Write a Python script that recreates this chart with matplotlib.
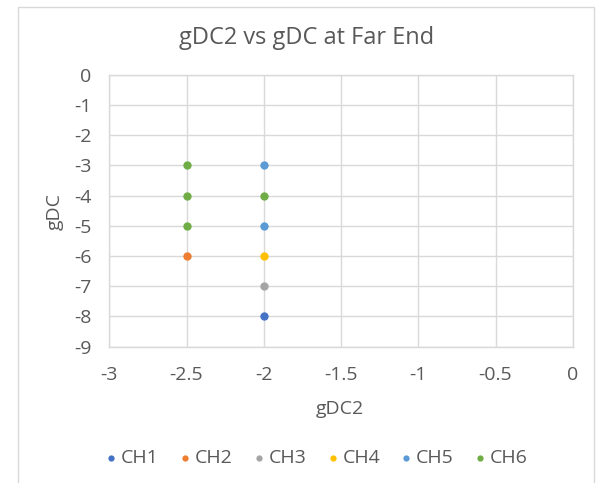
# gDC2 vs gDC at Far End (scatter, Excel style)

import numpy as np
import matplotlib.pyplot as plt
from matplotlib.patches import Rectangle

plt.rcParams['font.family'] = ['Open Sans', 'DejaVu Sans']

# data per channel (gDC2, gDC)
channels = ['CH1', 'CH2', 'CH3', 'CH4', 'CH5', 'CH6']
ch1_x, ch1_y = [-2.0], [-8]
ch2_x, ch2_y = [-2.5], [-6]
ch3_x, ch3_y = [-2.0], [-7]
ch4_x, ch4_y = [-2.0], [-6]
ch5_x, ch5_y = [-2.0, -2.0], [-3, -5]
ch6_x, ch6_y = [-2.5, -2.5, -2.5, -2.0], [-3, -4, -5, -4]

xs = [ch1_x, ch2_x, ch3_x, ch4_x, ch5_x, ch6_x]
ys = [ch1_y, ch2_y, ch3_y, ch4_y, ch5_y, ch6_y]
colors = ['#4472C4', '#ED7D31', '#A5A5A5', '#FFC000', '#5B9BD5', '#70AD47']

text_c = '#595959'
grid_c = '#D9D9D9'

fig = plt.figure(figsize=(5.98, 4.83), dpi=100)
ax = fig.add_axes([0.1828, 0.2822, 0.775, 0.5631])

# outer chart border
fig.patches.append(Rectangle((18/598, -0.05), (594-18)/598, 1.05 - 7/483,
                             transform=fig.transFigure, fill=False,
                             edgecolor=grid_c, linewidth=1))

for name, x, y, c in zip(channels, xs, ys, colors):
    ax.scatter(x, y, s=36, color=c, label=name, zorder=3, linewidths=0)

ax.set_xlim(-3, 0)
ax.set_ylim(-9, 0)
ax.set_xticks(np.arange(-3, 0.01, 0.5))
ax.set_yticks(np.arange(-9, 0.01, 1))
ax.set_xticklabels(['-3', '-2.5', '-2', '-1.5', '-1', '-0.5', '0'])
ax.set_yticklabels([str(v) for v in range(-9, 1)])

ax.grid(True, color=grid_c, linewidth=1)
ax.set_axisbelow(True)
for s in ax.spines.values():
    s.set_color(grid_c)
    s.set_linewidth(1)
ax.tick_params(length=0, labelsize=14, labelcolor=text_c)
ax.tick_params(axis='y', pad=13)
ax.tick_params(axis='x', pad=14)

fig.text(307/598, 1 - 38/483, 'gDC2 vs gDC at Far End', ha='center', va='center',
         fontsize=17, color=text_c)
fig.text(340/598, 1 - 409/483, 'gDC2', ha='center', va='center',
         fontsize=14, color=text_c)
fig.text(55/598, 1 - 212/483, 'gDC', ha='center', va='center', rotation=90,
         fontsize=14, color=text_c)

leg = fig.legend(loc='center', bbox_to_anchor=(0.526, 1 - 458/483), ncol=6,
                 frameon=False, fontsize=14, markerscale=0.75,
                 handletextpad=0.0, columnspacing=0.85, handlelength=1.0)
for t in leg.get_texts():
    t.set_color(text_c)

fig.savefig('out.png', dpi=100)
